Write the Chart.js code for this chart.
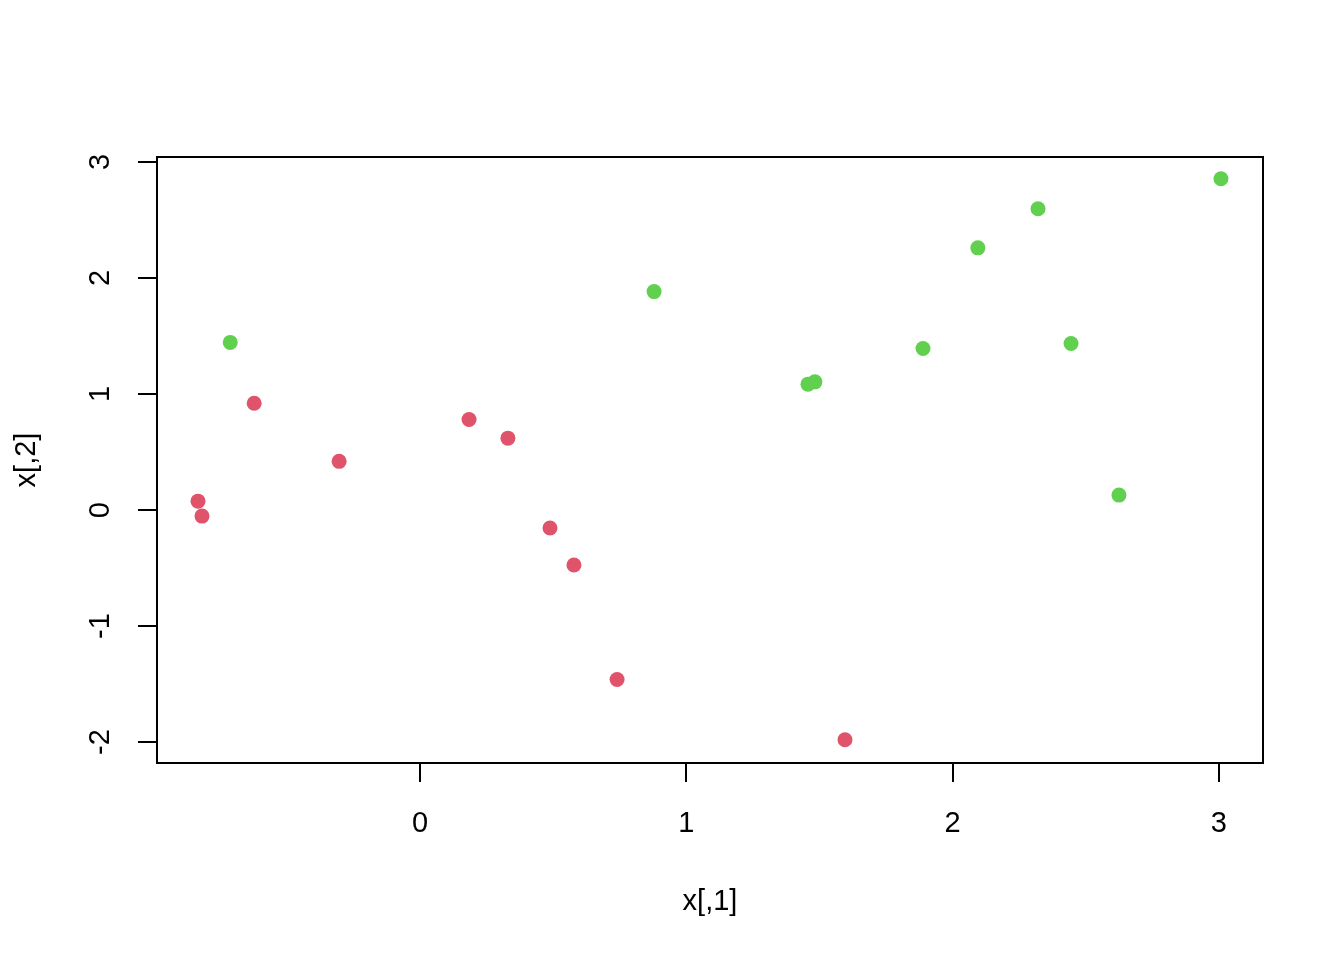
<!DOCTYPE html>
<html>
<head>
<meta charset="utf-8">
<script src="https://cdn.jsdelivr.net/npm/chart.js@4"></script>
<style>
  html, body { margin: 0; padding: 0; background: #fff; }
  #wrap { width: 1344px; height: 960px; }
</style>
</head>
<body>
<div id="wrap"><canvas id="plot"></canvas></div>
<script>
// values
const redX = [-0.834, -0.819, -0.623, -0.304, 0.184, 0.330, 0.488, 0.578, 0.740, 1.596];
const redY = [0.077, -0.052, 0.920, 0.420, 0.780, 0.620, -0.155, -0.473, -1.460, -1.980];
const greenX = [-0.713, 0.879, 1.457, 1.483, 1.889, 2.095, 2.321, 2.445, 2.625, 3.008];
const greenY = [1.445, 1.883, 1.085, 1.105, 1.393, 2.260, 2.597, 1.436, 0.129, 2.855];
const xTicks = [0, 1, 2, 3];
const yTicks = [-2, -1, 0, 1, 2, 3];
const xTitle = 'x[,1]';
const yTitle = 'x[,2]';

const FONT = '"Liberation Sans", Arial, sans-serif';
const FONT_SIZE = 29;

function toPoints(xs, ys) {
    return xs.map((x, i) => ({ x: x, y: ys[i] }));
}

// box round the plot, y tick labels and axis titles, drawn like R does
const rFrame = {
    id: 'rFrame',
    afterDraw(chart) {
        const ctx = chart.ctx;
        const area = chart.chartArea;
        const yScale = chart.scales.y;
        ctx.save();
        ctx.strokeStyle = '#000';
        ctx.lineWidth = 2;
        ctx.strokeRect(area.left, area.top, area.right - area.left, area.bottom - area.top);

        ctx.fillStyle = '#000';
        ctx.font = FONT_SIZE + 'px ' + FONT;
        ctx.textAlign = 'center';
        ctx.textBaseline = 'middle';
        yTicks.forEach(v => {
            const py = yScale.getPixelForValue(v);
            ctx.save();
            ctx.translate(101, py);
            ctx.rotate(-Math.PI / 2);
            ctx.fillText(String(v), 0, 0);
            ctx.restore();
        });

        // axis titles
        ctx.fillText(xTitle, (area.left + area.right) / 2, 902);
        ctx.save();
        ctx.translate(27, (area.top + area.bottom) / 2);
        ctx.rotate(-Math.PI / 2);
        ctx.fillText(yTitle, 0, 0);
        ctx.restore();
        ctx.restore();
    }
};

new Chart(document.getElementById('plot'), {
    type: 'scatter',
    data: {
        datasets: [
            {
                label: 'red',
                data: toPoints(redX, redY),
                backgroundColor: '#DF536B',
                borderWidth: 0,
                pointRadius: 7.5,
                pointHoverRadius: 7.5
            },
            {
                label: 'green',
                data: toPoints(greenX, greenY),
                backgroundColor: '#61D04F',
                borderWidth: 0,
                pointRadius: 7.5,
                pointHoverRadius: 7.5
            }
        ]
    },
    plugins: [rFrame],
    options: {
        responsive: true,
        maintainAspectRatio: false,
        animation: false,
        events: [],
        layout: {
            padding: { left: 0, right: 81, top: 157, bottom: 0 }
        },
        plugins: {
            legend: { display: false },
            tooltip: { enabled: false }
        },
        scales: {
            x: {
                type: 'linear',
                min: -0.988,
                max: 3.166,
                afterBuildTicks: scale => { scale.ticks = xTicks.map(v => ({ value: v })); },
                afterFit: scale => { scale.height = 197; },
                border: { display: false },
                grid: {
                    drawOnChartArea: false,
                    drawTicks: true,
                    tickLength: 19,
                    color: '#000',
                    lineWidth: 2
                },
                ticks: {
                    color: '#000',
                    padding: 25,
                    maxRotation: 0,
                    autoSkip: false,
                    font: { family: FONT, size: FONT_SIZE }
                }
            },
            y: {
                type: 'linear',
                min: -2.18,
                max: 3.043,
                afterBuildTicks: scale => { scale.ticks = yTicks.map(v => ({ value: v })); },
                afterFit: scale => { scale.width = 157; },
                border: { display: false },
                grid: {
                    drawOnChartArea: false,
                    drawTicks: true,
                    tickLength: 19,
                    color: '#000',
                    lineWidth: 2
                },
                ticks: { display: false }
            }
        }
    }
});
</script>
</body>
</html>
